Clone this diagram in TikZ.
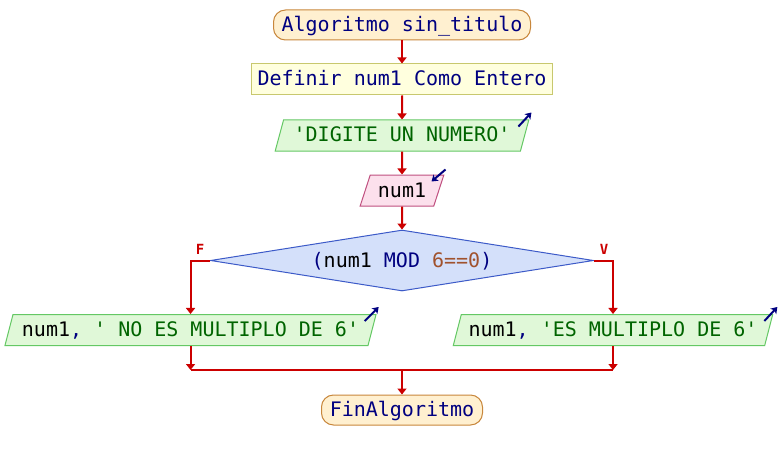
\documentclass[tikz,border=0pt]{standalone}
\usepackage{fontspec}
\setmonofont{DejaVu Sans Mono}
\usetikzlibrary{shapes.geometric,arrows.meta,calc}

\definecolor{kw}{RGB}{0,0,128}
\definecolor{str}{RGB}{0,100,0}
\definecolor{numc}{RGB}{160,82,45}
\definecolor{flowred}{RGB}{204,0,0}
\definecolor{termfill}{RGB}{255,240,208}
\definecolor{termline}{RGB}{200,135,60}
\definecolor{deffill}{RGB}{255,255,222}
\definecolor{defline}{RGB}{200,200,110}
\definecolor{outfill}{RGB}{224,248,216}
\definecolor{outline}{RGB}{100,200,100}
\definecolor{infill}{RGB}{252,224,236}
\definecolor{inline}{RGB}{192,80,128}
\definecolor{decfill}{RGB}{212,224,250}
\definecolor{decline}{RGB}{60,90,200}

\tikzset{
  base/.style={font=\ttfamily\fontsize{20}{24}\selectfont, inner sep=0pt,
    text height=17pt, text depth=4pt, line width=1pt},
  term/.style={base, draw=termline, fill=termfill, rounded corners=12pt,
    minimum height=30pt},
  defbox/.style={base, draw=defline, fill=deffill, minimum height=31pt},
  slanted/.style={base, trapezium, trapezium left angle=70,
    trapezium right angle=110, trapezium stretches=true, minimum height=31pt},
  outbox/.style={slanted, draw=outline, fill=outfill},
  inbox/.style={slanted, draw=inline, fill=infill},
  decbox/.style={base, diamond, aspect=6.28, draw=decline, fill=decfill,
    minimum width=383pt, minimum height=61pt},
  flow/.style={draw=flowred, line width=2pt,
    -{Triangle[length=6pt,width=9pt]}},
  flowline/.style={draw=flowred, line width=2pt},
  lbl/.style={font=\ttfamily\bfseries\fontsize{14}{16}\selectfont,
    text=flowred, inner sep=0pt},
  icon/.style={draw=kw, line width=2pt,
    -{Stealth[length=6pt,width=8pt,inset=1.5pt]}}
}

\begin{document}
\begin{tikzpicture}[x=1pt,y=-1pt]
\useasboundingbox[fill=white] (0,0) rectangle (780,460);

% main column
\node[term, minimum width=257pt] (start) at (402,25)
  {\color{kw}Algoritmo sin\_titulo};
\node[defbox, minimum width=301pt] (def) at (402,79.5)
  {\color{kw}Definir num1 Como Entero};
\node[outbox, minimum width=254pt] (msg) at (402,135.5)
  {\color{str}'DIGITE UN NUMERO'};
\node[inbox, minimum width=84pt] (rd) at (402,190.5)
  {\color{black}num1};
\node[decbox] (dec) at (402,260.5)
  {\color{kw}(\textcolor{black}{num1} MOD \textcolor{numc}{6==0})};

% branches
\node[outbox, minimum width=373pt] (lout) at (190.5,330)
  {\textcolor{black}{num1}\textcolor{kw}{,} \textcolor{str}{' NO ES MULTIPLO DE 6'}};
\node[outbox, minimum width=320pt] (rout) at (613,330)
  {\textcolor{black}{num1}\textcolor{kw}{,} \textcolor{str}{'ES MULTIPLO DE 6'}};

\node[term, minimum width=161pt] (fin) at (402,410)
  {\color{kw}FinAlgoritmo};

% flow connectors
\draw[flow] (start.south) -- (def.north);
\draw[flow] (def.south) -- (msg.north);
\draw[flow] (msg.south) -- (rd.north);
\draw[flow] (rd.south) -- (dec.north);
\draw[flow] (dec.west) -| (lout.north);
\draw[flow] (dec.east) -| (rout.north);

\coordinate (merge) at (402,370);
\draw[flow] (lout.south) -- (lout.south |- merge);
\draw[flow] (rout.south) -- (rout.south |- merge);
\draw[flowline] (lout.south |- merge) -- (rout.south |- merge);
\draw[flow] (merge) -- (fin.north);

% branch labels
\node[lbl] (flabel) at ($(lout.north |- dec.west)+(9.5,-11)$) {F};
\node[lbl] (vlabel) at ($(rout.north |- dec.east)+(-9,-11)$) {V};

% input/output markers
\draw[icon] ($(msg.top right corner)+(-11,7)$) -- ($(msg.top right corner)+(2,-7)$);
\draw[icon] ($(rd.top right corner)+(1,-5)$) -- ($(rd.top right corner)+(-13,7)$);
\draw[icon] ($(lout.top right corner)+(-12,7)$) -- ($(lout.top right corner)+(2,-7)$);
\draw[icon] ($(rout.top right corner)+(-9,7)$) -- ($(rout.top right corner)+(4,-7)$);
\end{tikzpicture}
\end{document}
